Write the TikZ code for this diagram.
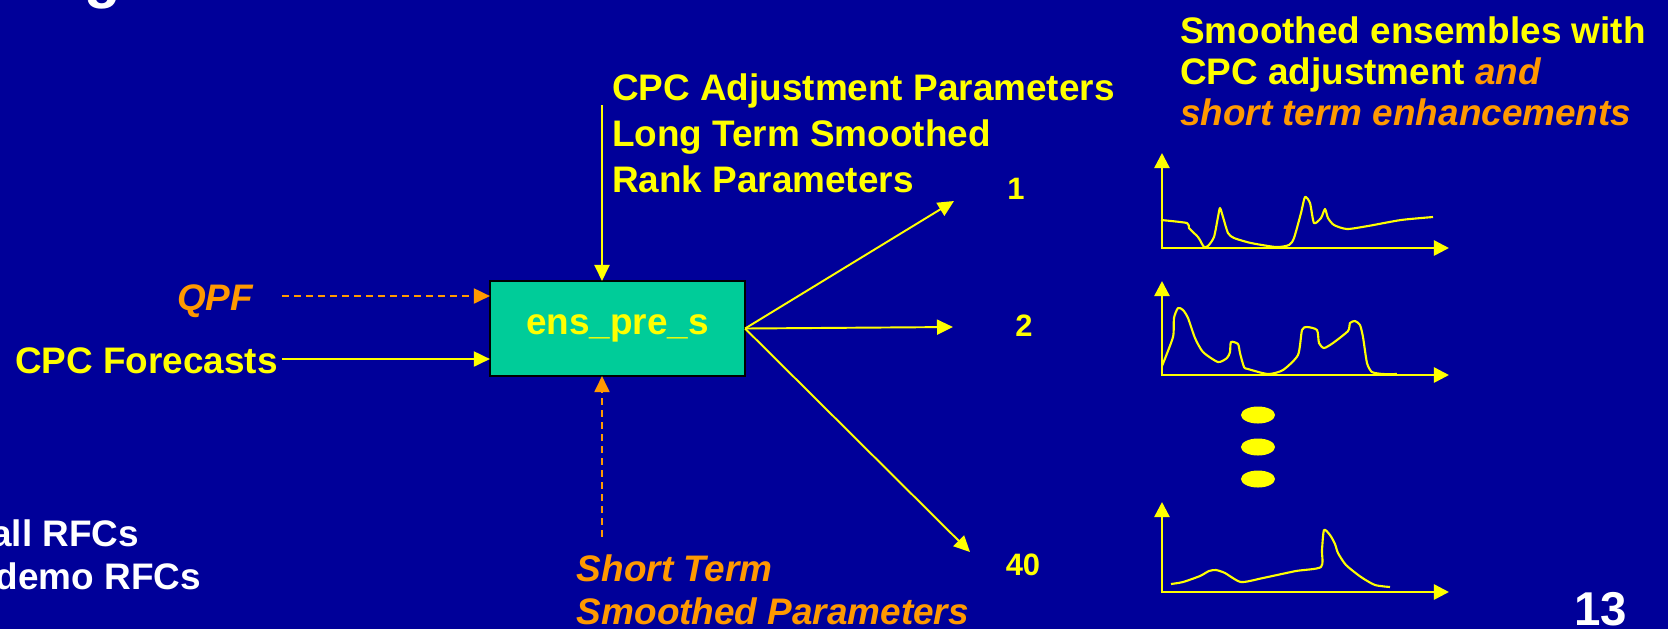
\documentclass[tikz,border=0pt]{standalone}
\usepackage{fontspec}
\setmainfont{Liberation Sans}
\usetikzlibrary{arrows.meta}
\definecolor{slidebg}{RGB}{0,0,153}
\definecolor{ylw}{RGB}{255,255,0}
\definecolor{orng}{RGB}{255,153,0}
\definecolor{boxfill}{RGB}{0,204,153}

\begin{document}
\begin{tikzpicture}
[x=0.01cm,y=-0.01cm,every node/.style={inner sep=0pt,outer sep=0pt},
lbl/.style={text=ylw,align=left,font=\bfseries\fontsize{10.5}{13}\selectfont},
olbl/.style={text=orng,align=left,font=\bfseries\itshape\fontsize{10.5}{12.2}\selectfont},
wlbl/.style={text=white,font=\bfseries\fontsize{10.5}{13}\selectfont},
num/.style={text=ylw,font=\bfseries\fontsize{8.8}{10}\selectfont},
proc/.style={draw=black,line width=0.6pt,fill=boxfill,minimum width=2.55cm,minimum height=0.95cm,text=ylw,font=\bfseries\fontsize{10.5}{13}\selectfont},
flow/.style={draw=ylw,line width=0.55pt,-{Triangle[length=0.16cm,width=0.15cm]}},
dflow/.style={draw=orng,line width=0.55pt,dash pattern=on 0.07cm off 0.05cm,-{Triangle[length=0.16cm,width=0.15cm]}},
axis/.style={draw=ylw,line width=0.7pt,{Triangle[length=0.15cm,width=0.15cm]}-{Triangle[length=0.15cm,width=0.15cm]}},
trace/.style={draw=ylw,line width=0.6pt,line join=round},]
\useasboundingbox (0,0) rectangle (1668,629);
\fill[slidebg] (0,0) rectangle (1668,629);

\node[text=white,font=\bfseries\fontsize{17}{20}\selectfont,anchor=base] (ttl) at (103,-4) {g};
\node[wlbl,anchor=base east] (allrfc) at (139,546) {all RFCs};
\node[wlbl,anchor=base east] (demorfc) at (201,589) {demo RFCs};
\node[text=white,font=\bfseries\fontsize{13.5}{15}\selectfont,anchor=base] (slno) at (1601,625) {13};

% preprocessor and its inputs
\node[proc] (ens) at (617.5,328.5) {ens\_pre\_s};
\node[olbl,anchor=base east] (qpf) at (253,310) {QPF};
\node[lbl,anchor=base west] (cpcfc) at (15,373.5) {CPC Forecasts};
\node[lbl,anchor=north west] (params) at (612,74) {CPC Adjustment Parameters\\Long Term Smoothed\\Rank Parameters};
\node[olbl,anchor=north west] (stparams) at (577,555) {Short Term\\Smoothed Parameters};
\coordinate (qpfin) at (282,296);
\coordinate (fcin) at (282,359);
\coordinate (parin) at (602,105);
\coordinate (stin) at (602,537);
\draw[dflow] (qpfin) -- (qpfin -| ens.west);
\draw[flow] (fcin) -- (fcin -| ens.west);
\draw[flow] (parin) -- (parin |- ens.north);
\draw[dflow] (stin) -- (stin |- ens.south);

% ensemble members
\coordinate (out1) at (954,201);
\coordinate (out2) at (953,327);
\coordinate (out40) at (970,552);
\draw[flow] (ens.east) -- (out1);
\draw[flow] (ens.east) -- (out2);
\draw[flow] (ens.east) -- (out40);
\node[num] (n1) at (1016,189) {1};
\node[num] (n2) at (1024,326) {2};
\node[num] (n40) at (1023,565) {40};

\node[lbl,anchor=north west,font=\bfseries\fontsize{10.5}{11.6}\selectfont] (result) at (1180,17) {Smoothed ensembles with\\CPC adjustment \textcolor{orng}{\itshape and}\\ \textcolor{orng}{\itshape short term enhancements}};

% traces
\foreach \yb/\h in {248/95,375/94,592/90}
  \draw[axis] (1162,\yb-\h) -- (1162,\yb) -- (1449,\yb);
\begin{scope}[shift={(1162,248)}]
\draw[trace] plot[smooth,tension=0.4] coordinates {(-1,-28) (25,-25) (27,-20) (36,-11) (39,-6) (42,-1) (46,-2) (52,-11) (56,-31) (58,-40) (61,-31) (66,-15) (72,-10) (89,-5) (114,-1) (127,-3) (132,-10) (139,-35) (143,-51) (148,-45) (152,-25) (159,-30) (163,-39) (166,-30) (172,-23) (185,-19) (206,-22) (239,-28) (271,-31)};
\end{scope}
\begin{scope}[shift={(1162,375)}]
\draw[trace] plot[smooth,tension=0.4] coordinates {(0,-9) (11,-38) (12,-57) (16,-67) (21,-65) (26,-57) (33,-37) (41,-23) (56,-13) (65,-17) (68,-23) (69,-33) (76,-31) (78,-22) (82,-8) (86,-6) (106,-1) (121,-5) (136,-20) (140,-45) (145,-48) (155,-45) (157,-32) (162,-27) (171,-32) (186,-44) (188,-52) (193,-54) (198,-50) (201,-38) (205,-12) (210,-3) (221,-1) (235,-1)};
\end{scope}
\foreach \dy in {415,447,479}
  \fill[ylw] (1258,\dy) ellipse [x radius=0.17cm,y radius=0.085cm];
\begin{scope}[shift={(1162,592)}]
\draw[trace] plot[smooth,tension=0.4] coordinates {(9,-8) (21,-10) (38,-16) (47,-21) (54,-22) (63,-19) (79,-10) (101,-14) (134,-21) (159,-25) (160,-42) (162,-62) (168,-57) (173,-48) (176,-39) (184,-27) (199,-15) (213,-7) (228,-5)};
\end{scope}
\end{tikzpicture}
\end{document}
